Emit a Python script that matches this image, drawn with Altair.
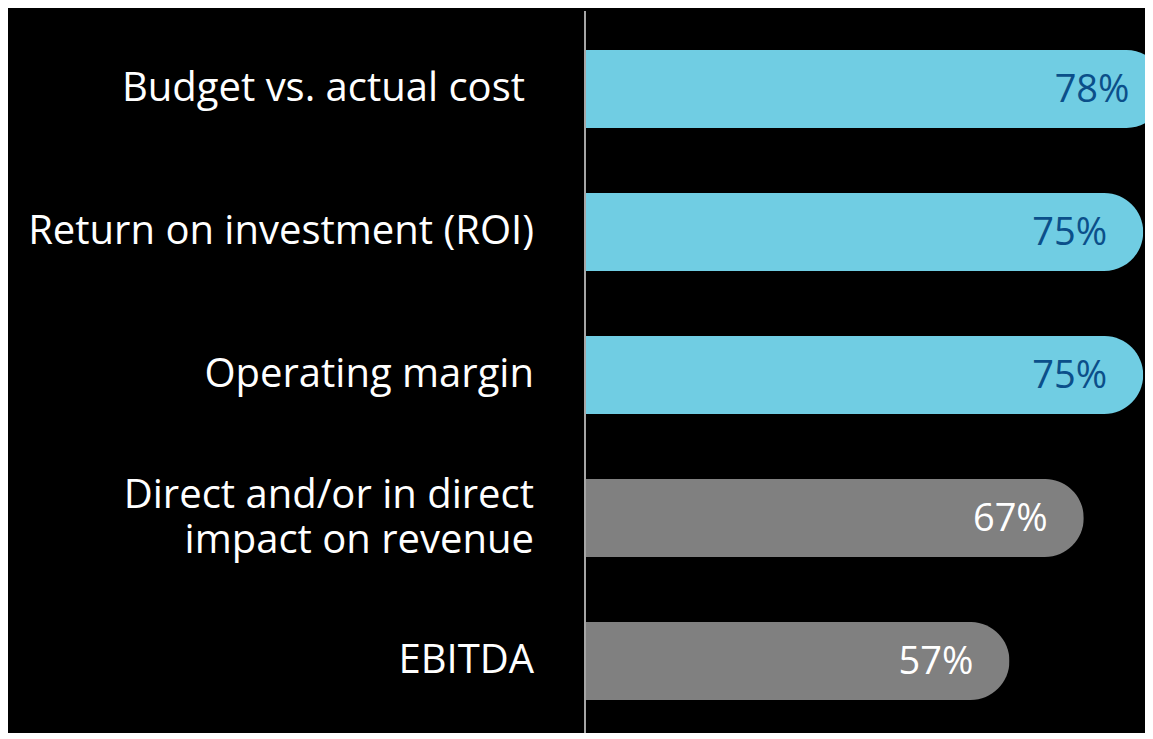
import altair as alt
import pandas as pd

categories = [
    "Budget vs. actual cost",
    "Return on investment (ROI)",
    "Operating margin",
    "Direct and/or in direct|impact on revenue",
    "EBITDA",
]
values = [78, 75, 75, 67, 57]
group = ["hi", "hi", "hi", "lo", "lo"]
value_labels = ["78%", "75%", "75%", "67%", "57%"]

df = pd.DataFrame({
    "cat": categories,
    "value": values,
    "grp": group,
    "lbl": value_labels,
})

FONT = "Open Sans"
CYAN = "#70CDE3"
GRAY = "#808080"

y_enc = alt.Y("cat:N", sort=categories, axis=None,
              scale=alt.Scale(paddingInner=0.4545, paddingOuter=0.2273))
x_scale = alt.Scale(domain=[0, 75.24], nice=False, zero=True)

base = alt.Chart(df)

bars = base.mark_bar(cornerRadiusEnd=39).encode(
    x=alt.X("value:Q", scale=x_scale, axis=None),
    y=y_enc,
    color=alt.Color("grp:N", scale=alt.Scale(domain=["hi", "lo"], range=[CYAN, GRAY]), legend=None),
)

vals = base.mark_text(align="right", baseline="middle", dx=-36, dy=2, font=FONT, fontSize=38).encode(
    x=alt.X("value:Q", scale=x_scale),
    y=y_enc,
    text="lbl:N",
    color=alt.Color("grp:N", scale=alt.Scale(domain=["hi", "lo"], range=["#0B4F8A", "#FFFFFF"]), legend=None),
)

label_style = dict(align="right", baseline="middle", font=FONT, fontSize=40,
                   color="white", lineBreak="|", lineHeight=45)

cats_main = base.transform_filter(
    alt.FieldOneOfPredicate(field="cat", oneOf=[categories[1], categories[2], categories[4]])
).mark_text(**label_style).encode(x=alt.value(-52), y=y_enc, text="cat:N")

cats_budget = base.transform_filter(
    alt.FieldEqualPredicate(field="cat", equal=categories[0])
).mark_text(**label_style).encode(x=alt.value(-61), y=y_enc, text="cat:N")

cats_multi = base.transform_filter(
    alt.FieldEqualPredicate(field="cat", equal=categories[3])
).mark_text(dy=-22, **label_style).encode(x=alt.value(-52), y=y_enc, text="cat:N")

rule = alt.Chart(pd.DataFrame({"a": [0]})).mark_rule(color="#A6A6A6", strokeWidth=2).encode(
    x=alt.value(-1),
    y=alt.value(-6.5),
    y2=alt.value(730),
)

chart = alt.layer(bars, vals, cats_main, cats_budget, cats_multi, rule).properties(
    width=559,
    height=715,
    autosize=alt.AutoSizeParams(type="none"),
    padding={"left": 578, "top": 9.5, "right": 0, "bottom": 0},
    background="black",
).resolve_scale(color="independent").configure_view(stroke=None)

chart.save("out.html", embed_options={"renderer": "svg", "actions": False})
